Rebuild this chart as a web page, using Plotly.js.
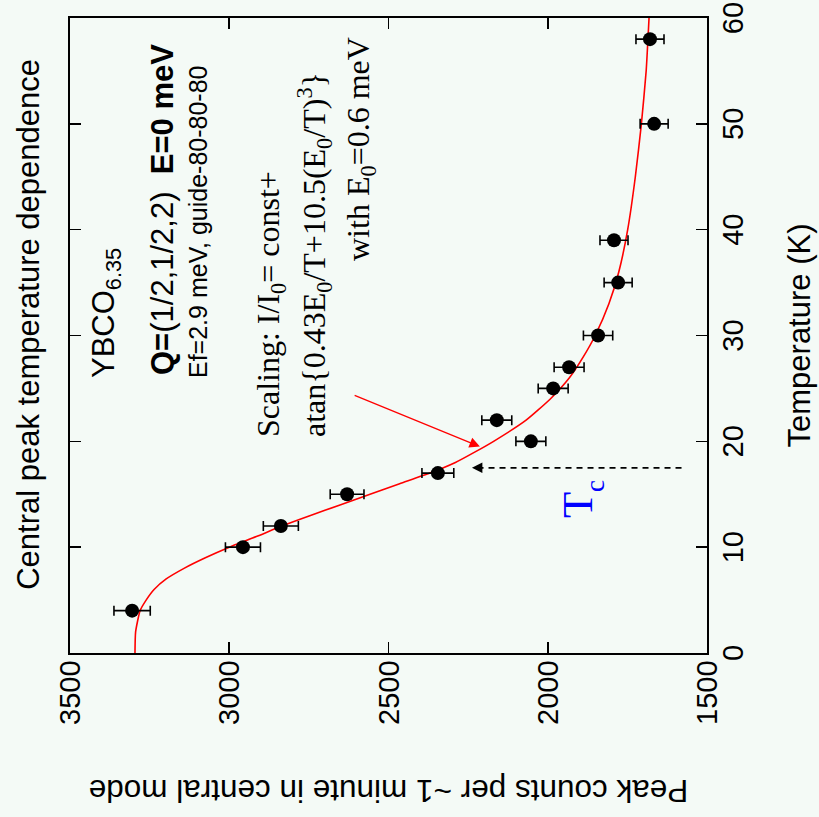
<!DOCTYPE html>
<html>
<head>
<meta charset="utf-8">
<script src="https://cdn.plot.ly/plotly-3.0.1.min.js"></script>
<style>
  html, body { margin:0; padding:0; width:819px; height:817px; overflow:hidden; background:#f4faf6; }
  #wrap { position:absolute; left:0; top:0; width:817px; height:819px;
          transform-origin:0 0; transform:translate(0px,817px) rotate(-90deg); }
</style>
</head>
<body>
<div id="wrap"></div>
<script>
// measured points
const tempK   = [4, 10, 12, 15, 17, 20, 22, 25, 27, 30, 35, 39, 50, 58];
const counts  = [3305, 2957, 2838, 2630, 2345, 2053, 2160, 1983, 1933, 1842, 1779, 1792, 1666, 1679];
const errors  = [57, 55, 55, 53, 50, 47, 47, 47, 47, 46, 44, 44, 44, 44];

// scaling fit curve
const fitT      = [0, 2, 4, 5, 6, 7, 8, 9, 10, 11, 12, 13, 14, 15, 16, 17, 18, 19, 20, 22, 24, 26, 28, 30, 33, 36, 40, 45, 50, 55, 60];
const fitCounts = [3296, 3294, 3280, 3261, 3236, 3198, 3142, 3075, 3000, 2915, 2835, 2745, 2650, 2558, 2465, 2370, 2290, 2228, 2170, 2068, 1992, 1932, 1888, 1851, 1808, 1777, 1749, 1725, 1706, 1691, 1682];

// Tc arrow (dashed) and scaling arrow
const tcArrowT      = [17.5, 17.5];
const tcArrowCounts = [1580, 2225];
const tcHead        = [17.5, 2238];
const scalingTail   = [24.4, 2611];
const scalingHead   = [19.5, 2213];

const xTicks = [0, 10, 20, 30, 40, 50, 60];
const yTicks = [1500, 2000, 2500, 3000, 3500];

const SANS = 'Liberation Sans, Arial, sans-serif';
const SERIF = 'Liberation Serif, Times New Roman, serif';

const traces = [
  { x: fitT, y: fitCounts, mode: 'lines', type: 'scatter',
    line: { color: '#ff0000', width: 1.6, shape: 'spline', smoothing: 0.5 }, hoverinfo: 'skip' },
  { x: tcArrowT, y: tcArrowCounts, mode: 'lines', type: 'scatter',
    line: { color: '#000000', width: 1.8, dash: '6px,5px' }, hoverinfo: 'skip' },
  { x: tempK, y: counts, mode: 'markers', type: 'scatter',
    marker: { color: '#000000', size: 14 },
    error_y: { type: 'data', array: errors, visible: true, color: '#000000', thickness: 1.6, width: 5 } }
];

const axisCommon = {
  showline: true, linecolor: '#000000', linewidth: 1.6, mirror: 'ticks',
  ticks: 'inside', ticklen: 11, tickwidth: 1.6, tickcolor: '#000000',
  showgrid: false, zeroline: false,
  tickfont: { family: SANS, size: 29, color: '#000000' }
};

const layout = {
  width: 817, height: 819,
  margin: { l: 164, r: 18, t: 70, b: 112, pad: 0 },
  paper_bgcolor: '#f4faf6', plot_bgcolor: '#f4faf6',
  showlegend: false,
  title: { text: 'Central peak temperature dependence', font: { family: SANS, size: 31, color: '#000000' },
           xref: 'container', yref: 'container', x: 0.603, xanchor: 'center', y: 0.966, yanchor: 'middle' },
  xaxis: Object.assign({}, axisCommon, {
    range: [0, 60], tickvals: xTicks,
    title: { text: 'Temperature (K)', font: { family: SANS, size: 31, color: '#000000' }, standoff: 40 }
  }),
  yaxis: Object.assign({}, axisCommon, {
    range: [1500, 3500], tickvals: yTicks,
    title: { text: 'Peak counts per ~1 minute in central mode', font: { family: SANS, size: 31.5, color: '#000000' }, standoff: 45 }
  }),
  annotations: [
    { x: 25.8, y: 3387, xref: 'x', yref: 'y', xanchor: 'left', yanchor: 'middle', showarrow: false,
      text: 'YBCO<sub>6.35</sub>', font: { family: SANS, size: 31, color: '#000000' } },
    { x: 26.1, y: 3211, xref: 'x', yref: 'y', xanchor: 'left', yanchor: 'middle', showarrow: false,
      text: '<b>Q=</b>(1/2,1/2,2)\u00a0\u00a0<b>E=0 meV</b>', font: { family: SANS, size: 31, color: '#000000' } },
    { x: 25.8, y: 3098, xref: 'x', yref: 'y', xanchor: 'left', yanchor: 'middle', showarrow: false,
      text: 'Ef=2.9 meV, guide-80-80-80', font: { family: SANS, size: 25, color: '#000000' } },
    { x: 20.2, y: 2872, xref: 'x', yref: 'y', xanchor: 'left', yanchor: 'middle', showarrow: false,
      text: 'Scaling: I/I<sub>0</sub>= const+', font: { family: SERIF, size: 32, color: '#000000' } },
    { x: 20.2, y: 2731, xref: 'x', yref: 'y', xanchor: 'left', yanchor: 'middle', showarrow: false,
      text: 'atan{0.43E<sub>0</sub>/T+10.5(E<sub>0</sub>/T)<sup>3</sup>}', font: { family: SERIF, size: 32, color: '#000000' } },
    { x: 36.85, y: 2589, xref: 'x', yref: 'y', xanchor: 'left', yanchor: 'middle', showarrow: false,
      text: 'with E<sub>0</sub>=0.6 meV', font: { family: SERIF, size: 32, color: '#000000' } },
    { x: 14.0, y: 1908, xref: 'x', yref: 'y', xanchor: 'center', yanchor: 'middle', showarrow: false,
      text: 'T', font: { family: SERIF, size: 43, color: '#0000ff' } },
    { x: 15.8, y: 1852, xref: 'x', yref: 'y', xanchor: 'center', yanchor: 'middle', showarrow: false,
      text: 'c', font: { family: SERIF, size: 27, color: '#0000ff' } },
    { x: scalingHead[0], y: scalingHead[1], ax: scalingTail[0], ay: scalingTail[1],
      xref: 'x', yref: 'y', axref: 'x', ayref: 'y', text: '', showarrow: true,
      arrowhead: 2, arrowsize: 1.6, arrowwidth: 1.3, arrowcolor: '#ff0000' },
    { x: tcHead[0], y: tcHead[1], ax: tcArrowT[1], ay: tcArrowCounts[1] - 20,
      xref: 'x', yref: 'y', axref: 'x', ayref: 'y', text: '', showarrow: true,
      arrowhead: 2, arrowsize: 1.3, arrowwidth: 1.6, arrowcolor: '#000000' }
  ]
};

Plotly.newPlot('wrap', traces, layout, { displayModeBar: false, staticPlot: true });
</script>
</body>
</html>
